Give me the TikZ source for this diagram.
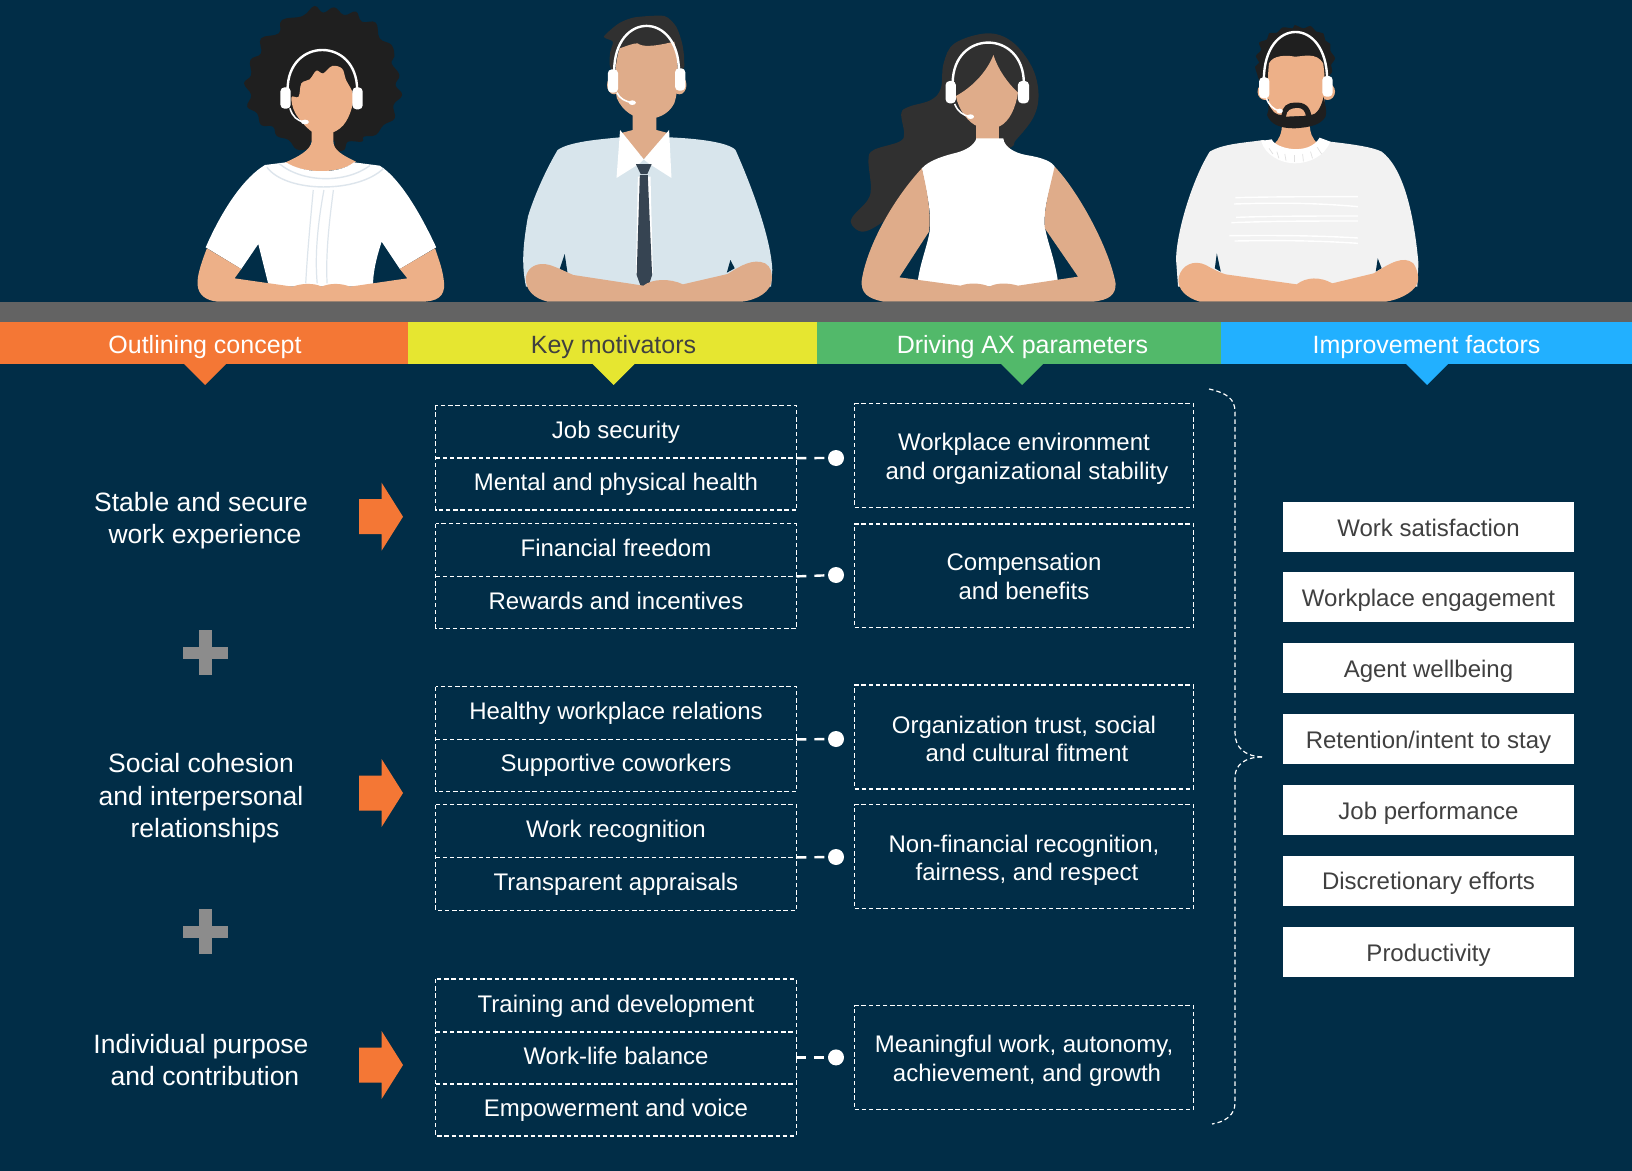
\documentclass[tikz,border=0pt]{standalone}
\usepackage{fontspec}
\setmainfont{Liberation Sans}
\definecolor{bgnavy}{HTML}{012D47}
\definecolor{barg}{HTML}{636363}
\definecolor{horange}{HTML}{F47735}
\definecolor{hyellow}{HTML}{E6E630}
\definecolor{hgreen}{HTML}{52B96A}
\definecolor{hblue}{HTML}{22B0FF}
\definecolor{txtd}{HTML}{404040}
\definecolor{plusg}{HTML}{8C8C8C}
\definecolor{skinA}{HTML}{EDB088}
\definecolor{skinB}{HTML}{DFAC8A}
\definecolor{hairA}{HTML}{1F1F1F}
\definecolor{hairB}{HTML}{303030}
\definecolor{shirtB}{HTML}{D8E5EC}
\definecolor{tieB}{HTML}{364452}
\definecolor{sweat}{HTML}{F2F2F2}
\definecolor{crease}{HTML}{DDE5EC}
\tikzset{
  header/.style={draw=none,minimum height=21pt,inner sep=0pt,font=\fontsize{12.5}{15}\selectfont,text height=9pt,text depth=2.6pt},
  dashbox/.style={draw=white,line width=.75pt,dash pattern=on 2.2pt off 1.4pt},
  cell/.style={minimum width=180pt,minimum height=26pt,inner sep=0pt,text=white,font=\fontsize{12}{14.6}\selectfont,text height=9.2pt,text depth=2.5pt},
  param/.style={dashbox,minimum width=169.5pt,minimum height=51.8pt,inner sep=0pt,text=white,align=center,font=\fontsize{12}{14.3}\selectfont},
  factor/.style={fill=white,minimum width=145.5pt,minimum height=25pt,inner sep=0pt,text=txtd,font=\fontsize{12}{14.6}\selectfont,text height=11.7pt,text depth=2.5pt},
  concept/.style={text=white,align=center,inner sep=0pt,font=\fontsize{13.25}{16.1}\selectfont},
  dotnode/.style={circle,fill=white,minimum size=8pt,inner sep=0pt},
  conn/.style={draw=white,line width=1.2pt,dash pattern=on 5pt off 4pt},
  brace/.style={draw=white,line width=.6pt,dash pattern=on 2.3pt off 1.5pt},
  zoomA/.style={xshift=90pt,x=0.1977pt,y=-0.16667pt},
  zoomB/.style={xshift=420pt,x=0.1977pt,y=-0.16667pt},
  band/.style={draw=white,line width=1.2pt},
  micl/.style={draw=white,line width=.8pt},
  cup/.style={fill=white,rounded corners=2pt},
}
\newcommand{\orangearrow}[1]{\fill[horange] (359,#1-17.5) -- (381.6,#1-17.5) -- (381.6,#1-34) -- (403,#1) -- (381.6,#1+34) -- (381.6,#1+17.5) -- (359,#1+17.5) -- cycle;}
\newcommand{\plussign}[1]{\fill[plusg] (199,#1-22.5) rectangle (212,#1+22.5); \fill[plusg] (182.6,#1-6) rectangle (228,#1+6);}
\begin{document}
\begin{tikzpicture}[x=0.5pt,y=-0.5pt]
\useasboundingbox (0,0) rectangle (1632,1171);
\fill[bgnavy] (0,0) rectangle (1632,1171);

% ---------- woman 1
\begin{scope}[zoomA]
\fill[hairA] plot[smooth cycle,tension=.7] coordinates {(340,18)(362,38)(390,22)(415,45)(445,35)(460,65)(495,68)(505,115)(535,135)(542,170)(535,190)(555,225)(545,255)(562,285)(540,315)(543,355)(515,375)(495,405)(465,410)(460,425)(425,425)(415,450)(390,450)(388,420)(335,420)(325,445)(295,448)(275,420)(245,408)(235,380)(205,375)(195,340)(170,320)(180,285)(162,250)(180,225)(178,180)(205,160)(205,115)(250,100)(258,60)(310,48)};
\fill[skinA] (333,380) -- (333,425) .. controls (330,450) and (300,470) .. (265,488) .. controls (310,520) and (400,525) .. (445,485) .. controls (410,465) and (388,450) .. (388,425) -- (388,380) -- cycle;
\fill[skinA] plot[smooth cycle,tension=.6] coordinates {(282,292)(300,290)(307,250)(328,238)(345,212)(362,220)(385,198)(410,206)(420,240)(438,285)(430,340)(405,385)(362,405)(330,392)(292,340)};
\fill[white] (215,495) -- (268,487) .. controls (310,520) and (400,525) .. (440,487) -- (505,497) .. controls (550,530) and (600,620) .. (648,742) -- (556,807) -- (510,725) .. controls (495,780) and (488,820) .. (488,860) -- (225,860) -- (198,732) -- (155,807) -- (65,742) .. controls (110,620) and (165,530) .. (215,495) -- cycle;
\draw[crease,line width=.7pt] (220,502) .. controls (270,580) and (450,580) .. (515,505);
\draw[crease,line width=.7pt] (250,490) .. controls (310,550) and (420,550) .. (480,497);
\draw[crease,line width=.6pt] (337,570) .. controls (330,660) and (322,760) .. (318,850);
\draw[crease,line width=.6pt] (364,570) .. controls (350,660) and (340,760) .. (347,850);
\draw[crease,line width=.6pt] (388,570) .. controls (378,660) and (368,760) .. (372,850);
\fill[skinA] (68,745) .. controls (50,800) and (40,840) .. (46,865) .. controls (52,895) and (80,905) .. (100,905) -- (610,905) .. controls (650,905) and (670,890) .. (668,850) .. controls (665,810) and (655,780) .. (645,745) -- (556,807) -- (575,835) -- (430,860) .. controls (410,850) and (380,848) .. (358,860) .. controls (340,848) and (305,850) .. (285,860) -- (138,835) -- (155,807) -- cycle;
\draw[band] (272,270) .. controls (272,110) and (448,110) .. (448,270);
\draw[micl] (278,325) .. controls (285,350) and (295,362) .. (315,366);
\fill[white] (316,366) ellipse (10 and 7);
\fill[cup] (254,262) rectangle (280,326);
\fill[cup] (436,262) rectangle (462,328);
\end{scope}

% ---------- man 1
\begin{scope}[zoomA]
\fill[hairB] plot[smooth cycle,tension=.4] coordinates {(1072,110)(1110,70)(1150,52)(1225,48)(1255,80)(1270,130)(1275,180)(1262,215)(1100,215)(1087,165)(1095,125)};
\fill[skinB] (1098,255) ellipse (18 and 28);
\fill[skinB] (1263,255) ellipse (18 and 28);
\fill[skinB] (1145,330) -- (1145,390) -- (1113,400) -- (1173,478) -- (1237,400) -- (1205,390) -- (1205,330) -- cycle;
\fill[skinB] (1112,145) .. controls (1130,138) and (1145,130) .. (1157,130) .. controls (1170,140) and (1190,142) .. (1250,125) .. controls (1262,190) and (1262,270) .. (1250,310) .. controls (1235,345) and (1205,358) .. (1178,356) .. controls (1150,356) and (1120,335) .. (1105,295) .. controls (1097,250) and (1100,190) .. (1112,145) -- cycle;
\fill[shirtB] (955,450) .. controls (985,425) and (1060,418) .. (1113,412) -- (1173,478) -- (1237,412) .. controls (1300,415) and (1385,425) .. (1405,450) .. controls (1450,570) and (1495,720) .. (1498,810) -- (1495,860) -- (875,860) .. controls (865,800) and (865,750) .. (880,650) .. controls (895,590) and (925,510) .. (955,450) -- cycle;
\fill[bgnavy] (973,762) -- (960,808) -- (980,818) -- cycle;
\fill[bgnavy] (1392,780) -- (1383,818) -- (1403,805) -- cycle;
\fill[white] (1158,530) -- (1190,530) -- (1196,820) -- (1153,820) -- cycle;
\fill[tieB] (1163,525) -- (1183,525) -- (1194,825) -- (1185,858) -- (1165,858) -- (1155,825) -- cycle;
\fill[skinB] (875,830) .. controls (880,800) and (905,785) .. (935,795) .. controls (960,805) and (975,815) .. (995,825) -- (1172,857) .. controls (1195,835) and (1240,835) .. (1272,853) -- (1385,822) .. controls (1420,795) and (1450,775) .. (1480,790) .. controls (1495,800) and (1497,820) .. (1497,835) .. controls (1497,875) and (1460,900) .. (1420,905) -- (930,905) .. controls (895,895) and (872,870) .. (875,830) -- cycle;
\fill[white] (1113,390) -- (1173,478) -- (1163,490) -- (1104,534) -- cycle;
\fill[white] (1237,390) -- (1173,478) -- (1185,490) -- (1243,534) -- cycle;
\fill[tieB] (1153,492) -- (1193,492) -- (1182,522) -- (1165,522) -- cycle;
\draw[band] (1098,215) .. controls (1098,32) and (1262,32) .. (1262,215);
\draw[micl] (1105,278) .. controls (1112,295) and (1125,305) .. (1145,308);
\fill[white] (1144,308) ellipse (9 and 7);
\fill[cup] (1082,208) rectangle (1108,278);
\fill[cup] (1252,205) rectangle (1278,272);
\end{scope}

% ---------- woman 2
\begin{scope}[zoomB]
\fill[hairB] plot[smooth cycle,tension=.6] coordinates {(372,100)(435,125)(485,200)(502,280)(490,350)(445,420)(415,450)(210,520)(130,640)(90,680)(55,695)(30,675)(32,650)(70,600)(78,560)(72,480)(85,450)(150,425)(162,400)(155,340)(175,320)(230,300)(255,265)(262,190)(290,130)};
\fill[skinB] (345,360) -- (345,420) -- (403,420) -- (403,360) -- cycle;
\fill[skinB] (388,165) .. controls (370,220) and (330,265) .. (293,288) .. controls (300,330) and (325,370) .. (350,380) .. controls (370,385) and (385,385) .. (402,380) .. controls (430,365) and (445,320) .. (450,278) .. controls (425,250) and (400,210) .. (388,165) -- cycle;
\fill[white] (345,415) -- (413,415) .. controls (415,440) and (440,458) .. (470,465) .. controls (510,472) and (540,485) .. (545,505) .. controls (525,590) and (515,630) .. (518,680) .. controls (525,730) and (545,780) .. (553,860) -- (195,860) .. controls (200,790) and (225,730) .. (228,680) .. controls (230,620) and (215,560) .. (207,505) .. controls (225,480) and (270,465) .. (295,458) .. controls (320,450) and (340,435) .. (345,415) -- cycle;
\fill[skinB] (207,505) .. controls (140,590) and (70,730) .. (55,840) .. controls (52,880) and (70,895) .. (110,905) -- (640,905) .. controls (680,900) and (698,885) .. (697,850) .. controls (680,740) and (600,570) .. (543,500) .. controls (525,590) and (515,630) .. (518,685) -- (602,830) -- (450,857) .. controls (425,848) and (395,848) .. (378,860) .. controls (355,848) and (325,848) .. (305,857) -- (150,832) -- (225,695) .. controls (232,640) and (218,560) .. (207,505) -- cycle;
\draw[band] (285,250) .. controls (285,87) and (465,87) .. (465,250);
\draw[micl] (290,312) .. controls (298,335) and (310,345) .. (328,350);
\fill[white] (330,350) ellipse (9 and 7);
\fill[cup] (267,243) rectangle (293,310);
\fill[cup] (450,243) rectangle (478,310);
\end{scope}

% ---------- man 2
\begin{scope}[zoomB]
\fill[hairA] plot[smooth cycle,tension=.5] coordinates {(1060,240)(1055,222)(1050,200)(1060,188)(1052,168)(1065,150)(1060,128)(1080,118)(1085,100)(1105,98)(1120,82)(1145,85)(1150,75)(1172,85)(1190,78)(1205,95)(1222,100)(1228,122)(1240,132)(1240,152)(1252,175)(1242,195)(1245,215)(1232,235)(1225,260)(1075,260)};
\fill[skinA] (1075,275) ellipse (19 and 25);
\fill[skinA] (1233,275) ellipse (19 and 25);
\fill[skinA] (1118,370) .. controls (1118,400) and (1110,420) .. (1098,432) .. controls (1125,460) and (1180,460) .. (1208,432) .. controls (1195,415) and (1188,400) .. (1188,370) -- cycle;
\fill[sweat] (935,455) .. controls (970,430) and (1030,428) .. (1070,420) -- (1100,432) .. controls (1125,460) and (1180,460) .. (1208,432) -- (1240,425) .. controls (1290,432) and (1345,440) .. (1370,455) .. controls (1420,500) and (1450,620) .. (1463,790) -- (1460,860) -- (855,860) -- (850,780) .. controls (850,700) and (890,540) .. (935,455) -- cycle;
\fill[bgnavy] (953,760) -- (948,805) -- (963,815) -- cycle;
\fill[bgnavy] (1360,775) -- (1355,815) -- (1370,805) -- cycle;
\fill[skinA] (1085,190) .. controls (1095,165) and (1130,165) .. (1150,170) .. controls (1170,170) and (1205,155) .. (1222,190) .. controls (1228,240) and (1228,300) .. (1220,345) -- (1170,380) -- (1130,380) -- (1090,345) .. controls (1082,300) and (1080,240) .. (1085,190) -- cycle;
\fill[hairA] (1223,290) .. controls (1228,320) and (1232,335) .. (1228,350) .. controls (1215,375) and (1190,382) .. (1150,385) .. controls (1115,385) and (1090,375) .. (1080,345) .. controls (1085,335) and (1084,325) .. (1083,310) .. controls (1095,340) and (1105,345) .. (1117,345) .. controls (1118,320) and (1130,308) .. (1150,308) .. controls (1175,305) and (1188,320) .. (1192,345) .. controls (1205,345) and (1218,320) .. (1223,290) -- cycle;
\fill[skinA] (1128,350) .. controls (1130,330) and (1140,325) .. (1155,324) .. controls (1170,322) and (1176,335) .. (1178,347) -- cycle;
\fill[white] (1065,423) -- (1092,418) .. controls (1100,445) and (1185,470) .. (1213,413) -- (1240,425) .. controls (1225,470) and (1185,490) .. (1150,490) .. controls (1115,490) and (1075,465) .. (1065,423) -- cycle;
\foreach \xa/\ya/\xb/\yb in {1085/445/1095/462,1105/455/1110/475,1125/462/1128/482,1148/465/1148/487,1170/462/1172/484,1190/455/1195/475,1207/442/1218/462}
  \draw[white!88!black,line width=.35pt] (\xa,\ya) -- (\xb,\yb);
\foreach \a/\b/\c/\d in {593/590/590/1000,612/608/620/997,652/648/648/1002,668/663/663/990,707/706/714/985,723/721/730/998}
  \draw[white,line width=.7pt] (\d,\a) .. controls (1100,\b) and (1200,\b) .. (1310,\c);
\fill[skinA] (857,830) .. controls (865,795) and (895,778) .. (925,795) .. controls (940,805) and (955,815) .. (975,823) -- (1155,853) .. controls (1180,830) and (1215,830) .. (1245,850) -- (1350,820) .. controls (1390,790) and (1425,765) .. (1450,790) .. controls (1462,810) and (1465,840) .. (1460,850) .. controls (1450,880) and (1410,900) .. (1380,905) -- (910,905) .. controls (880,895) and (850,870) .. (857,830) -- cycle;
\draw[band] (1072,240) .. controls (1072,48) and (1232,48) .. (1232,240);
\draw[micl] (1078,295) .. controls (1085,315) and (1095,328) .. (1112,333);
\fill[white] (1112,333) ellipse (8 and 7);
\fill[cup] (1060,232) rectangle (1086,295);
\fill[cup] (1220,228) rectangle (1246,290);
\end{scope}

% ---------- bar and headers
\fill[barg] (0,302) rectangle (1632,322);
\fill[horange] (184,364) -- (226,364) -- (205,385) -- cycle;
\fill[hyellow] (592.5,364) -- (634.5,364) -- (613.5,385) -- cycle;
\fill[hgreen] (1001,364) -- (1043,364) -- (1022,385) -- cycle;
\fill[hblue] (1406,364) -- (1448,364) -- (1427,385) -- cycle;
\node[header,fill=horange,minimum width=204pt] (h1) at (204,343) {};
\node[header,fill=hyellow,minimum width=204.5pt] (h2) at (612.5,343) {};
\node[header,fill=hgreen,minimum width=202pt] (h3) at (1019,343) {};
\node[header,fill=hblue,minimum width=205.5pt] (h4) at (1426.5,343) {};
\node[header,text=white] (t1) at (205,347.5) {Outlining concept};
\node[header,text=txtd] (t2) at (613.5,347.5) {Key motivators};
\node[header,text=white] (t3) at (1022.5,347.5) {Driving AX parameters};
\node[header,text=white] (t4) at (1426.5,347.5) {Improvement factors};

% ---------- concepts
\node[concept] (c1) at (205,517.8) {\rule{0pt}{12.8pt}Stable and secure\kern4pt\\work experience};
\node[concept] (c2) at (205,795) {\rule{0pt}{12.8pt}Social cohesion\kern4pt\\and interpersonal\kern4pt\\relationships};
\node[concept] (c3) at (205,1060) {Individual purpose\kern4pt\\and contribution};
\orangearrow{516.7}
\orangearrow{793}
\orangearrow{1065}
\plussign{652.5}
\plussign{931.5}

% ---------- motivators
\node[cell] (m1) at (616,431.7) {Job security};
\node[cell] (m2) at (616,483.8) {Mental and physical health};
\node[cell] (m3) at (616,550) {Financial freedom};
\node[cell] (m4) at (616,602.3) {Rewards and incentives};
\node[cell] (m5) at (616,713) {Healthy workplace relations};
\node[cell] (m6) at (616,765) {Supportive coworkers};
\node[cell] (m7) at (616,831) {Work recognition};
\node[cell] (m8) at (616,884) {Transparent appraisals};
\node[cell] (m9) at (616,1005.4) {Training and development};
\node[cell] (m10) at (616,1057.4) {Work-life balance};
\node[cell] (m11) at (616,1109.5) {Empowerment and voice};
\draw[dashbox] (m1.north west) rectangle (m2.south east);
\draw[dashbox] (m1.south west) -- (m1.south east);
\draw[dashbox] (m3.north west) rectangle (m4.south east);
\draw[dashbox] (m3.south west) -- (m3.south east);
\draw[dashbox] (m5.north west) rectangle (m6.south east);
\draw[dashbox] (m5.south west) -- (m5.south east);
\draw[dashbox] (m7.north west) rectangle (m8.south east);
\draw[dashbox] (m7.south west) -- (m7.south east);
\draw[dashbox] (m9.north west) rectangle (m11.south east);
\draw[dashbox] (m9.south west) -- (m9.south east);
\draw[dashbox] (m10.south west) -- (m10.south east);

% ---------- parameters
\node[param] (p1) at (1024,455.5) {\rule{0pt}{11.8pt}Workplace environment\\\kern3pt and organizational stability};
\node[param] (p2) at (1024,575.7) {\rule{0pt}{9.7pt}Compensation\\and benefits};
\node[param] (p3) at (1024,737) {\rule{0pt}{10.8pt}Organization trust, social\\\kern3pt and cultural fitment};
\node[param] (p4) at (1024,856.5) {\rule{0pt}{12.4pt}Non-financial recognition,\\\kern3pt fairness, and respect};
\node[param] (p5) at (1024,1057.5) {\rule{0pt}{11.8pt}Meaningful work, autonomy,\\\kern3pt achievement, and growth};

% ---------- connectors
\node[dotnode] (d1) at (836,458) {};
\node[dotnode] (d2) at (836,575) {};
\node[dotnode] (d3) at (836,739) {};
\node[dotnode] (d4) at (836,857) {};
\node[dotnode] (d5) at (836,1057.4) {};
\draw[conn] (m1.south east) -- (d1);
\draw[conn] (m3.south east) -- (d2);
\draw[conn] (m5.south east) -- (d3);
\draw[conn] (m7.south east) -- (d4);
\draw[conn] (m10.east) -- (d5);

% ---------- brace
\draw[brace] (1209,389) .. controls (1226,393) and (1235,398) .. (1235,412) -- (1235,733) .. controls (1235,748) and (1245,756) .. (1262,757);
\draw[brace] (1262,757) .. controls (1245,757) and (1235,765) .. (1235,777) -- (1235,1103) .. controls (1235,1115) and (1225,1122) .. (1212,1124);

% ---------- factors
\node[factor] (f1) at (1428.5,527) {Work satisfaction};
\node[factor] (f2) at (1428.5,597) {Workplace engagement};
\node[factor] (f3) at (1428.5,668) {Agent wellbeing};
\node[factor] (f4) at (1428.5,739) {Retention/intent to stay};
\node[factor] (f5) at (1428.5,810) {Job performance};
\node[factor] (f6) at (1428.5,880.5) {Discretionary efforts};
\node[factor] (f7) at (1428.5,952) {Productivity};
\end{tikzpicture}
\end{document}
